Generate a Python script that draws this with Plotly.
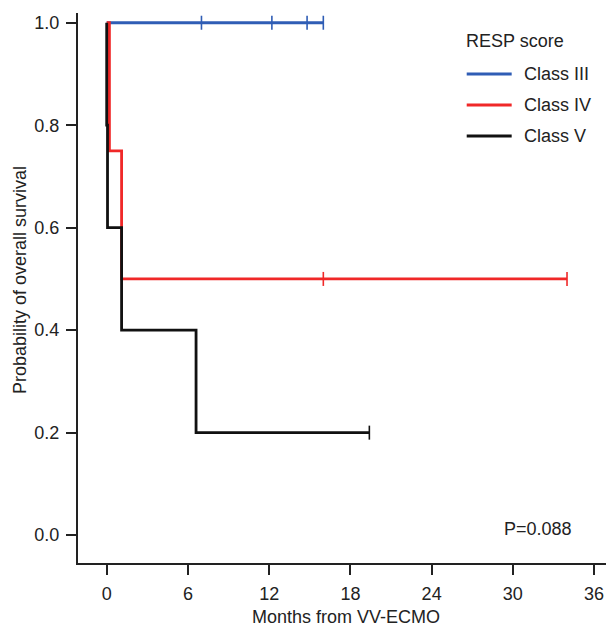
import plotly.graph_objects as go

# --- data ---
class_names = ["Class III", "Class IV", "Class V"]
colors = ["#2f5db5", "#f02828", "#111111"]

# Class III: no events, censored times
c3_event_t = []
c3_surv = []
c3_censor_t = [7.0, 12.2, 14.8, 16.0]

# Class IV
c4_event_t = [0.2, 1.1]
c4_surv = [0.75, 0.5]
c4_censor_t = [16.0, 34.0]

# Class V
c5_event_t = [0.0, 0.06, 1.1, 6.6]
c5_surv = [0.8, 0.6, 0.4, 0.2]
c5_censor_t = [19.4]

x_ticks = [0, 6, 12, 18, 24, 30, 36]
y_ticks = [0.0, 0.2, 0.4, 0.6, 0.8, 1.0]
p_text = "P=0.088"
legend_title = "RESP score"
y_title = "Probability of overall survival"
x_title = "Months from VV-ECMO"

FONT = "Liberation Sans, Arial, sans-serif"
TXT = "#222222"

fig = go.Figure()

groups = [
    (c3_event_t, c3_surv, c3_censor_t),
    (c4_event_t, c4_surv, c4_censor_t),
    (c5_event_t, c5_surv, c5_censor_t),
]

for name, col, (ev_t, sv, cen_t) in zip(class_names, colors, groups):
    last_t = max(ev_t + cen_t)
    xs = [0.0] + ev_t + [last_t]
    ys = [1.0] + sv + [(sv[-1] if sv else 1.0)]
    fig.add_trace(go.Scatter(
        x=xs, y=ys, mode="lines", line=dict(color=col, width=2.8, shape="hv"),
        name=name, showlegend=False, hoverinfo="skip"))
    # censor marks: survival at each censor time
    cen_y = []
    for t in cen_t:
        s = 1.0
        for et, es in zip(ev_t, sv):
            if et <= t:
                s = es
        cen_y.append(s)
    fig.add_trace(go.Scatter(
        x=cen_t, y=cen_y, mode="markers",
        marker=dict(symbol="line-ns", size=10, line=dict(color=col, width=1.6)),
        showlegend=False, hoverinfo="skip"))

# manual legend (paper coordinates)
fig.add_annotation(text=legend_title, xref="paper", yref="paper", x=0.720, y=0.9496,
                   xanchor="left", yanchor="middle", showarrow=False,
                   font=dict(family=FONT, size=18, color=TXT))
leg_y = [0.889, 0.8327, 0.7764]
for name, col, ly in zip(class_names, colors, leg_y):
    fig.add_shape(type="line", xref="paper", yref="paper", x0=0.7252, x1=0.8091,
                  y0=ly, y1=ly, line=dict(color=col, width=3))
    fig.add_annotation(text=name, xref="paper", yref="paper", x=0.8278, y=ly,
                       xanchor="left", yanchor="middle", showarrow=False,
                       font=dict(family=FONT, size=18, color=TXT))

fig.add_annotation(text=p_text, xref="paper", yref="paper", x=0.926, y=0.0618,
                   xanchor="right", yanchor="middle", showarrow=False,
                   font=dict(family=FONT, size=18, color=TXT))

# y-axis title as rotated text, centred where the reference has it
fig.add_annotation(text=y_title, xref="paper", yref="paper", x=-0.1082, y=0.5145,
                   xanchor="center", yanchor="middle", textangle=-90, showarrow=False,
                   font=dict(family=FONT, size=18, color=TXT))

# page body has an 8px margin, so the figure is 8px smaller and shifted
fig.update_layout(
    width=606, height=619,
    margin=dict(l=70, r=0, t=5, b=64),
    paper_bgcolor="white", plot_bgcolor="white",
    font=dict(family=FONT, size=18, color=TXT),
    showlegend=False,
    xaxis=dict(range=[-2.12, 37.47], tickvals=x_ticks, ticktext=[str(v) for v in x_ticks],
               showgrid=False, zeroline=False, showline=True, linecolor="#222222", linewidth=2,
               ticks="outside", ticklen=10, tickwidth=2, tickcolor="#222222",
               ticklabelstandoff=3,
               title=dict(text=x_title, font=dict(size=18), standoff=8)),
    yaxis=dict(range=[-0.0544, 1.019], tickvals=y_ticks, ticktext=[f"{v:.1f}" for v in y_ticks],
               showgrid=False, zeroline=False, showline=True, linecolor="#222222", linewidth=2,
               ticks="outside", ticklen=10, tickwidth=2, tickcolor="#222222",
               ticklabelstandoff=3),
)

fig.write_html("out.html")
